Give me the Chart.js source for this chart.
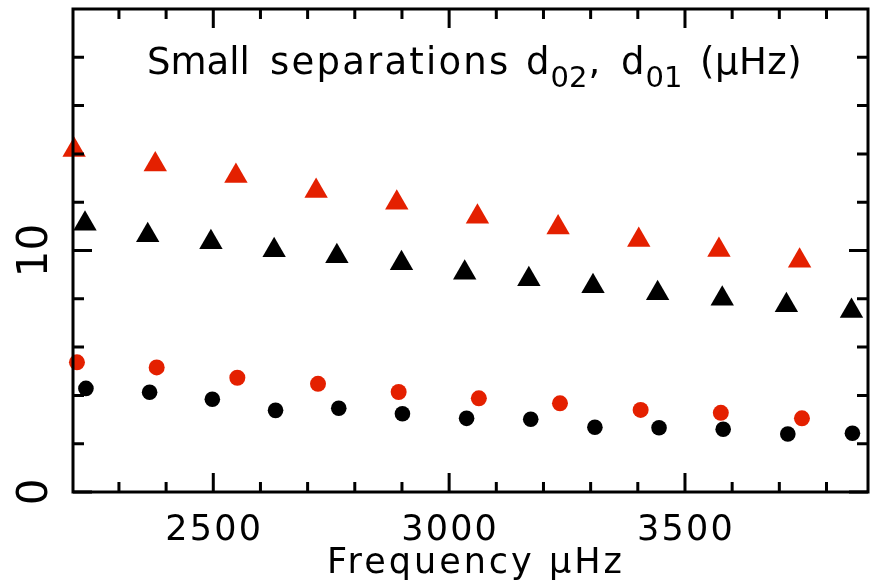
<!DOCTYPE html>
<html>
<head>
<meta charset="utf-8">
<script src="https://cdn.jsdelivr.net/npm/chart.js@4.4.1/dist/chart.umd.min.js"></script>
<style>
  body { margin: 0; background: #ffffff; }
  #contenedor { width: 870px; height: 586px; }
</style>
</head>
<body>
<div id="contenedor"><canvas id="grafica" width="870" height="586"></canvas></div>
<script>
// Datos (frecuencia en μHz, separación en μHz)
const redTriangleFreq = [2205, 2377, 2548, 2718, 2889, 3060, 3231, 3402, 3572, 3743];
const redTriangleSep = [14.16, 13.56, 13.08, 12.46, 11.98, 11.40, 10.95, 10.43, 10.02, 9.58];
const redCircleFreq = [2211, 2380, 2551, 2722, 2893, 3063, 3235, 3406, 3576, 3748];
const redCircleSep = [5.37, 5.16, 4.73, 4.48, 4.14, 3.88, 3.67, 3.40, 3.28, 3.05];
const blackTriangleFreq = [2228, 2361, 2495, 2629, 2762, 2899, 3033, 3169, 3305, 3442, 3579, 3715, 3853];
const blackTriangleSep = [11.11, 10.63, 10.34, 10.01, 9.76, 9.47, 9.08, 8.81, 8.52, 8.23, 8.00, 7.73, 7.49];
const blackCircleFreq = [2230, 2365, 2498, 2632, 2766, 2901, 3037, 3173, 3309, 3445, 3581, 3718, 3855];
const blackCircleSep = [4.29, 4.13, 3.84, 3.38, 3.47, 3.24, 3.05, 3.01, 2.68, 2.66, 2.60, 2.40, 2.43];

// Marcas de los ejes
const xMajorTicks = [2500, 3000, 3500];
const xMinorTicks = [2300, 2400, 2600, 2700, 2800, 2900, 3100, 3200, 3300, 3400, 3600, 3700, 3800];
const yMajorTicks = [0, 10];
const yMinorTicks = [2, 4, 6, 8, 12, 14, 16, 18];

const rojo = '#e42000';
const negro = '#000000';
const fuente = '"DejaVu Sans", "Liberation Sans", sans-serif';

// Función para juntar dos listas en puntos {x, y}
function puntos(xs, ys) {
    return xs.map((x, i) => ({ x: x, y: ys[i] }));
}

// Función para escribir texto con espaciado entre letras
function escribir(ctx, texto, x, y, tam, espacio, align) {
    ctx.font = `${tam}px ${fuente}`;
    ctx.letterSpacing = `${espacio}px`;
    ctx.textAlign = align;
    ctx.fillText(texto, x, y);
    const ancho = ctx.measureText(texto).width;
    ctx.letterSpacing = '0px';
    return ancho;
}

// Plugin que dibuja el marco, las marcas hacia dentro y los textos
const marcoPlugin = {
    id: 'marco',
    afterDatasetsDraw(chart) {
        const ctx = chart.ctx;
        const area = chart.chartArea;
        const xs = chart.scales.x;
        const ys = chart.scales.y;
        ctx.save();
        ctx.strokeStyle = negro;
        ctx.fillStyle = negro;
        ctx.lineWidth = 3;
        ctx.lineCap = 'butt';
        ctx.strokeRect(area.left, area.top, area.right - area.left, area.bottom - area.top);

        ctx.beginPath();
        xMajorTicks.concat(xMinorTicks).forEach(v => {
            const largo = xMajorTicks.includes(v) ? 19 : 10;
            const px = xs.getPixelForValue(v);
            ctx.moveTo(px, area.bottom);
            ctx.lineTo(px, area.bottom - largo);
            ctx.moveTo(px, area.top);
            ctx.lineTo(px, area.top + largo);
        });
        yMajorTicks.concat(yMinorTicks).forEach(v => {
            const largo = yMajorTicks.includes(v) ? 19 : 11;
            const py = ys.getPixelForValue(v);
            ctx.moveTo(area.left, py);
            ctx.lineTo(area.left + largo, py);
            ctx.moveTo(area.right, py);
            ctx.lineTo(area.right - largo, py);
        });
        ctx.stroke();

        // Etiquetas del eje x
        ctx.textBaseline = 'alphabetic';
        xMajorTicks.forEach(v => {
            escribir(ctx, String(v), xs.getPixelForValue(v) + 1, 540, 35, 2.2, 'center');
        });

        // Etiquetas del eje y, giradas
        yMajorTicks.forEach(v => {
            ctx.save();
            ctx.translate(47, ys.getPixelForValue(v));
            ctx.rotate(-Math.PI / 2);
            escribir(ctx, String(v), 0, 0, 42, 0, 'center');
            ctx.restore();
        });

        // Título del eje x
        escribir(ctx, 'Frequency \u03bcHz', 327, 573, 35, 3, 'left');

        // Título dentro del gráfico con subíndices
        escribir(ctx, 'Small', 147, 74, 37, 0, 'left');
        escribir(ctx, 'separations', 270, 74, 37, 2.2, 'left');
        let x = 526;
        x += escribir(ctx, 'd', x, 74, 37, 0, 'left');
        x += escribir(ctx, '02', x + 1, 87, 29, 0, 'left');
        escribir(ctx, ',', x + 2, 74, 37, 0, 'left');
        x = 621;
        x += escribir(ctx, 'd', x, 74, 37, 0, 'left');
        escribir(ctx, '01', x + 1, 87, 29, 0, 'left');
        escribir(ctx, '(\u03bcHz)', 700, 74, 37, 0.5, 'left');
        ctx.restore();
    }
};

// Función para crear la gráfica
function cargarGrafica() {
    const ctx = document.getElementById('grafica').getContext('2d');
    new Chart(ctx, {
        type: 'scatter',
        data: {
            datasets: [
                { data: puntos(redTriangleFreq, redTriangleSep), pointStyle: 'triangle', pointRadius: 13.5, backgroundColor: rojo },
                { data: puntos(blackTriangleFreq, blackTriangleSep), pointStyle: 'triangle', pointRadius: 13.5, backgroundColor: negro },
                { data: puntos(redCircleFreq, redCircleSep), pointStyle: 'circle', pointRadius: 8, backgroundColor: rojo },
                { data: puntos(blackCircleFreq, blackCircleSep), pointStyle: 'circle', pointRadius: 7.8, backgroundColor: negro }
            ].map(d => Object.assign(d, { borderWidth: 0, pointHoverRadius: d.pointRadius, clip: false }))
        },
        options: {
            responsive: false,
            animation: false,
            devicePixelRatio: 1,
            layout: { autoPadding: false, padding: { left: 73, top: 9, right: 2, bottom: 94 } },
            plugins: { legend: { display: false }, tooltip: { enabled: false } },
            scales: {
                x: { type: 'linear', display: false, min: 2202.6, max: 3888 },
                y: { type: 'linear', display: false, min: 0, max: 20 }
            }
        },
        plugins: [marcoPlugin]
    });
}

document.addEventListener('DOMContentLoaded', cargarGrafica);
</script>
</body>
</html>
